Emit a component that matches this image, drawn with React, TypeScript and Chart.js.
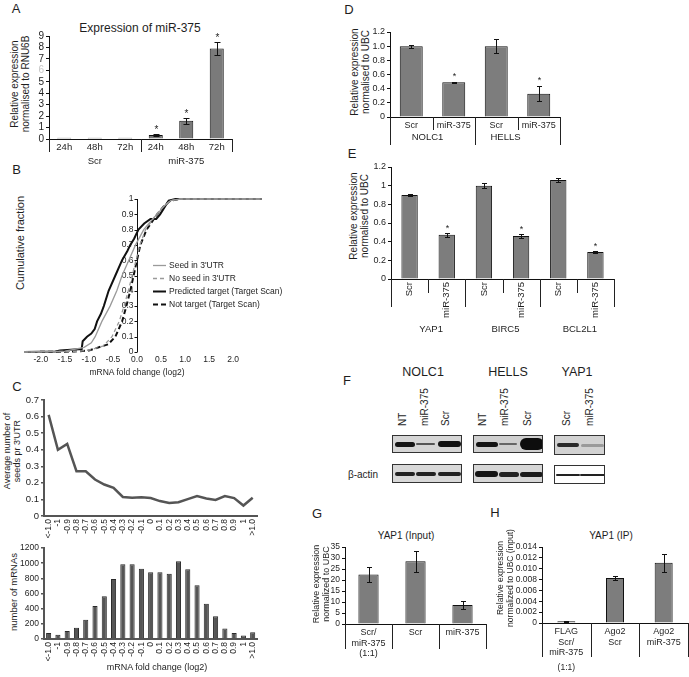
import React, { useEffect, useRef } from 'react';
import { Chart, registerables } from 'chart.js';

Chart.register(...registerables);

const FONT = '"Liberation Sans", Arial, Helvetica, sans-serif';
const INK = '#1e1e1e';
Chart.defaults.font.family = FONT;
Chart.defaults.color = INK;

// ---------------- Panel A ----------------
const aCategories = ['24h', '48h', '72h', '24h', '48h', '72h'];
const aGroupLabels = ['Scr', 'miR-375'];
const aValues = [0.12, 0.12, 0.12, 0.35, 1.6, 7.9];
const aErrors = [0, 0, 0, 0.05, 0.25, 0.6];
const aStars = [false, false, false, true, true, true];

// ---------------- Panel B ----------------
const bSeedX = [-2.35, -1.5, -1.1, -0.95, -0.87, -0.73, -0.56, -0.42, -0.31, -0.17, -0.03, 0.14, 0.3, 0.42, 0.55, 0.7, 0.9, 2.6];
const bSeedY = [0, 0.005, 0.03, 0.06, 0.1, 0.2, 0.3, 0.4, 0.5, 0.6, 0.7, 0.8, 0.86, 0.9, 0.95, 0.99, 1, 1];
const bNoSeedX = [-2.35, -1.2, -0.95, -0.7, -0.52, -0.37, -0.27, -0.18, -0.1, -0.02, 0.06, 0.18, 0.4, 0.55, 0.7, 0.9, 2.6];
const bNoSeedY = [0, 0.005, 0.015, 0.04, 0.1, 0.2, 0.3, 0.4, 0.5, 0.6, 0.7, 0.8, 0.9, 0.95, 0.99, 1, 1];
const bPredX = [-2.35, -1.7, -1.6, -1.15, -1.13, -1.04, -0.95, -0.88, -0.83, -0.75, -0.69, -0.59, -0.45, -0.31, -0.2, -0.14, -0.06, 0.03, 0.15, 0.28, 0.4, 0.48, 0.58, 0.66, 0.8, 2.6];
const bPredY = [0, 0.003, 0.01, 0.02, 0.07, 0.1, 0.12, 0.15, 0.2, 0.25, 0.3, 0.4, 0.5, 0.6, 0.66, 0.7, 0.74, 0.8, 0.84, 0.87, 0.87, 0.9, 0.95, 0.99, 1, 1];
const bNotX = [-2.35, -1.3, -1.0, -0.9, -0.6, -0.45, -0.31, -0.22, -0.14, -0.07, 0, 0.07, 0.2, 0.42, 0.55, 0.7, 0.9, 2.6];
const bNotY = [0, 0.003, 0.01, 0.02, 0.05, 0.1, 0.2, 0.3, 0.4, 0.5, 0.6, 0.7, 0.8, 0.9, 0.95, 0.99, 1, 1];
const bXTicks = [-2, -1.5, -1, -0.5, 0, 0.5, 1, 1.5, 2];
const bYTicks = [0, 0.1, 0.2, 0.3, 0.4, 0.5, 0.6, 0.7, 0.8, 0.9, 1];
const bLegend = ["Seed in 3'UTR", "No seed in 3'UTR", 'Predicted target (Target Scan)', 'Not target (Target Scan)'];

// ---------------- Panel C ----------------
const cCategories = ['<-1.0', '-1', '-0.9', '-0.8', '-0.7', '-0.6', '-0.5', '-0.4', '-0.3', '-0.2', '-0.1', '0', '0.1', '0.2', '0.3', '0.4', '0.5', '0.6', '0.7', '0.8', '0.9', '1', '>1.0'];
const cSeeds = [0.61, 0.4, 0.435, 0.27, 0.27, 0.22, 0.19, 0.17, 0.115, 0.11, 0.113, 0.108, 0.09, 0.078, 0.083, 0.102, 0.12, 0.106, 0.097, 0.12, 0.108, 0.063, 0.11];
const cCounts = [80, 55, 105, 150, 255, 435, 565, 790, 985, 985, 925, 880, 880, 860, 1025, 920, 710, 465, 300, 140, 80, 45, 90];

// ---------------- Panel D ----------------
const dCategories = ['Scr', 'miR-375', 'Scr', 'miR-375'];
const dGroupLabels = ['NOLC1', 'HELLS'];
const dValues = [1.0, 0.49, 1.0, 0.33];
const dErrors = [0.02, 0.005, 0.1, 0.105];
const dStars = [false, true, false, true];

// ---------------- Panel E ----------------
const eCategories = ['Scr', 'miR-375', 'Scr', 'miR-375', 'Scr', 'miR-375'];
const eGroupLabels = ['YAP1', 'BIRC5', 'BCL2L1'];
const eValues = [0.9, 0.475, 1.0, 0.46, 1.06, 0.29];
const eErrors = [0.008, 0.02, 0.03, 0.02, 0.02, 0.015];
const eStars = [false, true, false, true, false, true];

// ---------------- Panel F (blot lanes) ----------------
const fNolc1Lanes = ['NT', 'miR-375', 'Scr'];
const fHellsLanes = ['NT', 'miR-375', 'Scr'];
const fYap1Lanes = ['Scr', 'miR-375'];

// ---------------- Panel G ----------------
const gCategories = [['Scr/', 'miR-375', '(1:1)'], 'Scr', 'miR-375'];
const gValues = [22.5, 28.5, 8.6];
const gErrors = [3.2, 4.8, 1.7];

// ---------------- Panel H ----------------
const hCategories = [['FLAG', 'Scr/', 'miR-375'], ['Ago2', 'Scr'], ['Ago2', 'miR-375']];
const hValues = [0.0003, 0.0083, 0.0111];
const hErrors = [0.00005, 0.0003, 0.0017];

// ---------------- plugins ----------------
const decor: any = {
  id: 'decor',
  afterDatasetsDraw(chart: any, _a: any, o: any) {
    if (!o || !o.errors) return;
    const ctx = chart.ctx;
    const ys = chart.scales.y;
    const meta = chart.getDatasetMeta(0);
    const vals = chart.data.datasets[0].data;
    ctx.save();
    ctx.strokeStyle = '#111';
    ctx.lineWidth = 1;
    o.errors.forEach((e: number, i: number) => {
      const x = Math.round(meta.data[i].x) + 0.5;
      const v = vals[i];
      const top = ys.getPixelForValue(v + e);
      if (e > 0) {
        const bot = ys.getPixelForValue(v - e);
        const t = Math.round(top) + 0.5;
        const b = Math.round(bot) + 0.5;
        ctx.beginPath();
        ctx.moveTo(x, t);
        ctx.lineTo(x, b);
        ctx.moveTo(x - o.cap, t);
        ctx.lineTo(x + o.cap, t);
        ctx.moveTo(x - o.cap, b);
        ctx.lineTo(x + o.cap, b);
        ctx.stroke();
      }
      if (o.stars && o.stars[i]) {
        ctx.fillStyle = INK;
        ctx.font = `${o.starSize}px ${FONT}`;
        ctx.textAlign = 'center';
        ctx.textBaseline = 'alphabetic';
        ctx.fillText('*', x, top - o.starGap);
      }
    });
    ctx.restore();
  },
  afterDraw(chart: any, _a: any, o: any) {
    if (!o) return;
    const ctx = chart.ctx;
    const xs = chart.scales.x;
    const n = chart.data.labels.length;
    const cw = xs.width / n;
    ctx.save();
    ctx.strokeStyle = '#222';
    ctx.lineWidth = 1;
    (o.seps || []).forEach((s: number[]) => {
      const x = Math.round(xs.left + s[0] * cw) + 0.5;
      ctx.beginPath();
      ctx.moveTo(x, xs.top);
      ctx.lineTo(x, xs.top + s[1]);
      ctx.stroke();
    });
    ctx.fillStyle = INK;
    ctx.font = `${o.groupSize || 9}px ${FONT}`;
    ctx.textAlign = 'center';
    ctx.textBaseline = 'middle';
    (o.groups || []).forEach((g: any) => {
      const x = xs.left + ((g.from + g.to + 1) / 2) * cw + (g.dx || 0);
      ctx.fillText(g.label, x, xs.top + o.groupY);
    });
    ctx.restore();
  },
};

const bAxis: any = {
  id: 'bAxis',
  beforeDatasetsDraw(chart: any) {
    const ctx = chart.ctx;
    const xs = chart.scales.x;
    const ys = chart.scales.y;
    const x0 = Math.round(xs.getPixelForValue(0)) + 0.5;
    ctx.save();
    ctx.strokeStyle = '#111';
    ctx.lineWidth = 1;
    ctx.beginPath();
    ctx.moveTo(x0, ys.getPixelForValue(0));
    ctx.lineTo(x0, ys.getPixelForValue(1));
    bYTicks.forEach((v) => {
      const y = Math.round(ys.getPixelForValue(v)) + 0.5;
      ctx.moveTo(x0 - 3, y);
      ctx.lineTo(x0, y);
    });
    ctx.stroke();
    ctx.font = `8.5px ${FONT}`;
    ctx.fillStyle = INK;
    ctx.textAlign = 'right';
    ctx.textBaseline = 'middle';
    bYTicks.forEach((v) => {
      const t = v === 0 ? '0' : v === 1 ? '1' : v.toFixed(1);
      ctx.fillText(t, x0 - 4, ys.getPixelForValue(v));
    });
    ctx.restore();
  },
  afterDraw(chart: any, _a: any, o: any) {
    const ctx = chart.ctx;
    ctx.save();
    ctx.font = `8.5px ${FONT}`;
    ctx.fillStyle = INK;
    ctx.textBaseline = 'middle';
    ctx.textAlign = 'left';
    chart.data.datasets.forEach((ds: any, i: number) => {
      const y = Math.round(o.y + i * o.step) + 0.5;
      ctx.strokeStyle = ds.borderColor;
      ctx.lineWidth = ds.borderWidth;
      ctx.setLineDash(ds.borderDash || []);
      ctx.beginPath();
      ctx.moveTo(o.x, y);
      ctx.lineTo(o.x + 13, y);
      ctx.stroke();
      ctx.setLineDash([]);
      ctx.fillText(ds.label, o.x + 16, y);
    });
    ctx.restore();
  },
};

// ---------------- config helpers ----------------
function base(pad: any) {
  return {
    animation: false,
    responsive: false,
    events: [],
    layout: { padding: pad },
  };
}

function barConfig(p: any) {
  return {
    type: 'bar',
    data: {
      labels: p.labels,
      datasets: [
        {
          data: p.values,
          backgroundColor: p.color || '#7d7d7d',
          borderColor: '#111',
          borderWidth: 1,
          barPercentage: p.barFrac,
          categoryPercentage: 1,
        },
      ],
    },
    options: {
      ...base(p.pad),
      plugins: {
        legend: { display: false },
        tooltip: { enabled: false },
        decor: { ...p.decor, errors: p.errors, stars: p.stars },
      },
      scales: {
        x: {
          grid: { display: false, drawTicks: false },
          border: { display: true, color: '#111', width: 1 },
          ticks: {
            font: { size: p.xSize, lineHeight: 1.2 },
            color: INK,
            autoSkip: false,
            maxRotation: p.rot ? 90 : 0,
            minRotation: p.rot ? 90 : 0,
            padding: 3,
          },
          afterFit: (s: any) => {
            s.height = p.xh;
          },
        },
        y: {
          min: 0,
          max: p.yMax,
          ticks: {
            stepSize: p.yStep,
            autoSkip: false,
            font: { size: p.ySize },
            color: p.yColor || INK,
            padding: 2,
            callback: (v: any) => p.yFmt(Number(v)),
          },
          grid: { display: true, drawOnChartArea: false, drawTicks: true, tickLength: 3, color: '#111', lineWidth: 1 },
          border: { display: true, color: '#111', width: 1 },
          afterFit: (s: any) => {
            s.width = p.yw;
          },
        },
      },
    },
    plugins: [decor],
  };
}

const makeA = () =>
  barConfig({
    labels: aCategories,
    values: aValues,
    errors: aErrors,
    stars: aStars,
    barFrac: 0.46,
    color: '#7a7a7a',
    pad: { top: 16, right: 18, left: 0, bottom: 0 },
    yw: 49,
    xh: 31,
    yMax: 9,
    yStep: 1,
    ySize: 10,
    xSize: 9.5,
    yColor: (c: any) => (c.tick && c.tick.value === 6 ? '#c6c6c6' : INK),
    yFmt: (v: number) => String(Math.round(v)),
    decor: {
      cap: 3,
      starSize: 10,
      starGap: 1,
      seps: [[0, 13], [3, 13], [6, 13]],
      groups: [
        { from: 0, to: 2, label: aGroupLabels[0] },
        { from: 3, to: 5, label: aGroupLabels[1] },
      ],
      groupY: 22,
      groupSize: 9.5,
    },
  });

const makeD = () =>
  barConfig({
    labels: dCategories,
    values: dValues,
    errors: dErrors,
    stars: dStars,
    barFrac: 0.54,
    pad: { top: 12, right: 10, left: 0, bottom: 0 },
    yw: 50,
    xh: 33,
    yMax: 1.2,
    yStep: 0.2,
    ySize: 9,
    xSize: 9,
    yFmt: (v: number) => (v === 0 ? '0' : v.toFixed(1)),
    decor: {
      cap: 2.5,
      starSize: 9,
      starGap: 3,
      seps: [[0, 28], [1, 13], [2, 28], [3, 13], [4, 28]],
      groups: [
        { from: 0, to: 1, label: dGroupLabels[0], dx: -5 },
        { from: 2, to: 3, label: dGroupLabels[1], dx: -12 },
      ],
      groupY: 20,
      groupSize: 9.5,
    },
  });

const makeE = () =>
  barConfig({
    labels: eCategories,
    values: eValues,
    errors: eErrors,
    stars: eStars,
    barFrac: 0.44,
    pad: { top: 12, right: 10, left: 0, bottom: 0 },
    yw: 51,
    xh: 61,
    yMax: 1.2,
    yStep: 0.2,
    ySize: 9,
    xSize: 9.5,
    rot: true,
    yFmt: (v: number) => String(Number(v.toFixed(1))),
    decor: {
      cap: 2.5,
      starSize: 9,
      starGap: 2,
      seps: [[0, 28], [1, 14], [2, 28], [3, 14], [4, 28], [5, 14], [6, 28]],
      groups: [
        { from: 0, to: 1, label: eGroupLabels[0], dx: 3 },
        { from: 2, to: 3, label: eGroupLabels[1], dx: 3 },
        { from: 4, to: 5, label: eGroupLabels[2], dx: 3 },
      ],
      groupY: 50,
      groupSize: 9.5,
    },
  });

const makeG = () =>
  barConfig({
    labels: gCategories,
    values: gValues,
    errors: gErrors,
    barFrac: 0.43,
    pad: { top: 12, right: 10, left: 0, bottom: 0 },
    yw: 45,
    xh: 48,
    yMax: 35,
    yStep: 5,
    ySize: 8.5,
    xSize: 9,
    yFmt: (v: number) => String(Math.round(v)),
    decor: {
      cap: 2.5,
      seps: [[0, 25], [1, 25], [2, 25], [3, 25]],
      groups: [],
      groupY: 0,
    },
  });

const makeH = () =>
  barConfig({
    labels: hCategories,
    values: hValues,
    errors: hErrors,
    barFrac: 0.37,
    pad: { top: 12, right: 1, left: 0, bottom: 0 },
    yw: 47,
    xh: 49,
    yMax: 0.014,
    yStep: 0.002,
    ySize: 8.5,
    xSize: 9,
    yFmt: (v: number) => (Math.abs(v) < 1e-9 ? '0' : v.toFixed(3)),
    decor: {
      cap: 2.5,
      seps: [[0, 34], [1, 34], [2, 34], [3, 34]],
      groups: [{ from: 0, to: 0, label: '(1:1)' }],
      groupY: 45,
      groupSize: 8.5,
    },
  });

const makeB = () => {
  const pts = (xs: number[], ys: number[]) => xs.map((x, i) => ({ x, y: ys[i] }));
  return {
    type: 'line',
    data: {
      datasets: [
        { label: bLegend[0], data: pts(bSeedX, bSeedY), borderColor: '#9a9a9a', borderWidth: 1.3, pointRadius: 0, tension: 0, clip: 5 },
        { label: bLegend[1], data: pts(bNoSeedX, bNoSeedY), borderColor: '#9a9a9a', borderWidth: 1.3, borderDash: [4, 3], pointRadius: 0, tension: 0, clip: 5 },
        { label: bLegend[2], data: pts(bPredX, bPredY), borderColor: '#111', borderWidth: 2, pointRadius: 0, tension: 0, clip: 5 },
        { label: bLegend[3], data: pts(bNotX, bNotY), borderColor: '#111', borderWidth: 2, borderDash: [5, 3], pointRadius: 0, tension: 0, clip: 5 },
      ],
    },
    options: {
      ...base({ top: 14, right: 33, left: 24, bottom: 0 }),
      plugins: {
        legend: { display: false },
        tooltip: { enabled: false },
        bAxis: { x: 153, y: 80, step: 13 },
      },
      scales: {
        x: {
          type: 'linear',
          min: -2.35,
          max: 2.6,
          afterBuildTicks: (s: any) => {
            s.ticks = bXTicks.map((v) => ({ value: v }));
          },
          ticks: { font: { size: 8.5 }, color: INK, padding: 3, autoSkip: false, callback: (v: any) => Number(v).toFixed(1) },
          grid: { display: false, drawTicks: false },
          border: { display: false },
          afterFit: (s: any) => {
            s.height = 18;
          },
        },
        y: { type: 'linear', min: 0, max: 1, display: false },
      },
    },
    plugins: [bAxis],
  };
};

const makeCTop = () => ({
  type: 'line',
  data: {
    labels: cCategories,
    datasets: [{ data: cSeeds, borderColor: '#555', borderWidth: 2.5, pointRadius: 0, tension: 0, fill: false }],
  },
  options: {
    ...base({ top: 10, right: 5, left: 0, bottom: 0 }),
    plugins: { legend: { display: false }, tooltip: { enabled: false } },
    scales: {
      x: {
        offset: true,
        grid: { display: false, drawTicks: false },
        border: { display: true, color: '#555', width: 2 },
        ticks: { autoSkip: false, minRotation: 90, maxRotation: 90, font: { size: 8.5 }, color: INK, padding: 3 },
        afterFit: (s: any) => {
          s.height = 29;
        },
      },
      y: {
        min: 0,
        max: 0.7,
        ticks: { stepSize: 0.1, autoSkip: false, font: { size: 9.5 }, color: INK, padding: 2, callback: (v: any) => (Number(v) === 0 ? '0' : Number(v).toFixed(1)) },
        grid: { display: true, drawOnChartArea: false, drawTicks: true, tickLength: 3, color: '#555', lineWidth: 1.5 },
        border: { display: true, color: '#555', width: 2 },
        afterFit: (s: any) => {
          s.width = 44;
        },
      },
    },
  },
});

const makeCBottom = () => ({
  type: 'bar',
  data: {
    labels: cCategories,
    datasets: [{ data: cCounts, backgroundColor: '#555', borderColor: '#2a2a2a', borderWidth: 1, barPercentage: 0.55, categoryPercentage: 1 }],
  },
  options: {
    ...base({ top: 10, right: 5, left: 0, bottom: 0 }),
    plugins: { legend: { display: false }, tooltip: { enabled: false } },
    scales: {
      x: {
        grid: { display: false, drawTicks: false },
        border: { display: true, color: '#555', width: 2 },
        ticks: { autoSkip: false, minRotation: 90, maxRotation: 90, font: { size: 8.5 }, color: INK, padding: 3 },
        afterFit: (s: any) => {
          s.height = 27;
        },
      },
      y: {
        min: 0,
        max: 1200,
        ticks: { stepSize: 200, autoSkip: false, font: { size: 8.5 }, color: INK, padding: 2, callback: (v: any) => String(Math.round(Number(v))) },
        grid: { display: true, drawOnChartArea: false, drawTicks: true, tickLength: 3, color: '#555', lineWidth: 1.5 },
        border: { display: true, color: '#555', width: 2 },
        afterFit: (s: any) => {
          s.width = 44;
        },
      },
    },
  },
});

// ---------------- components ----------------
function ChartCanvas({ box, make }: { box: number[]; make: () => any }) {
  const ref = useRef<HTMLCanvasElement | null>(null);
  useEffect(() => {
    const c = new Chart(ref.current as HTMLCanvasElement, make());
    return () => c.destroy();
  }, []);
  const [left, top, width, height] = box;
  return (
    <canvas
      ref={ref}
      width={width}
      height={height}
      style={{ position: 'absolute', left, top, width, height }}
    />
  );
}

function Txt({ x, y, s, children, w }: { x: number; y: number; s: number; children: any; w?: number }) {
  return (
    <div
      style={{
        position: 'absolute',
        left: x,
        top: y,
        transform: 'translate(-50%,-50%)',
        fontSize: s,
        lineHeight: 1.1,
        whiteSpace: 'nowrap',
        fontWeight: w || 400,
      }}
    >
      {children}
    </div>
  );
}

function VTxt({ x, y, s, lh, lines }: { x: number; y: number; s: number; lh: number; lines: string[] }) {
  return (
    <div
      style={{
        position: 'absolute',
        left: x,
        top: y,
        transform: 'translate(-50%,-50%) rotate(-90deg)',
        fontSize: s,
        lineHeight: lh + 'px',
        whiteSpace: 'nowrap',
        textAlign: 'center',
      }}
    >
      {lines.map((l, i) => (
        <div key={i}>{l}</div>
      ))}
    </div>
  );
}

function LaneTxt({ x, y, s, t }: { x: number; y: number; s: number; t: string }) {
  return (
    <div
      style={{
        position: 'absolute',
        left: x,
        top: y,
        transform: 'translate(-50%,-100%) rotate(180deg)',
        writingMode: 'vertical-rl',
        fontSize: s,
        lineHeight: 1,
        whiteSpace: 'nowrap',
      }}
    >
      {t}
    </div>
  );
}

type Band = [number, number, number, number, string];
function Blot({ x, y, w, h, bg, bands }: { x: number; y: number; w: number; h: number; bg: string; bands: Band[] }) {
  return (
    <div
      style={{
        position: 'absolute',
        left: x,
        top: y,
        width: w,
        height: h,
        background: bg,
        border: '1px solid #333',
        boxSizing: 'border-box',
        overflow: 'hidden',
      }}
    >
      {bands.map((b, i) => (
        <div
          key={i}
          style={{
            position: 'absolute',
            left: b[0],
            top: b[2] - b[3] / 2,
            width: b[1],
            height: b[3],
            background: b[4],
            borderRadius: b[3] / 2,
            filter: 'blur(0.6px)',
          }}
        />
      ))}
    </div>
  );
}

const blotNolc1: Band[] = [[2, 20, 8, 5, '#151515'], [23, 19, 8, 2.5, '#555'], [45, 23, 8, 6, '#111']];
const blotNolc1Actin: Band[] = [[2, 20, 9, 4, '#222'], [23, 20, 9, 4, '#222'], [45, 23, 9, 4, '#222']];
const blotHells: Band[] = [[2, 22, 8, 5, '#151515'], [25, 18, 8, 2.5, '#666'], [46, 24, 8, 12, '#0d0d0d']];
const blotHellsActin: Band[] = [[1, 23, 9, 6, '#151515'], [25, 20, 9, 5, '#222'], [46, 23, 9, 5, '#1a1a1a']];
const blotYap1: Band[] = [[2, 22, 9, 4, '#2a2a2a'], [26, 23, 9, 3, '#9a9a9a']];
const blotYap1Actin: Band[] = [[1, 24, 9, 2.5, '#222'], [25, 25, 9, 2.5, '#222']];

export default function App() {
  return (
    <div
      style={{
        position: 'absolute',
        left: 0,
        top: 0,
        width: 689,
        height: 677,
        background: '#fff',
        overflow: 'hidden',
        fontFamily: FONT,
        color: INK,
      }}
    >
      {/* Panel letters */}
      <Txt x={16} y={9} s={13}>A</Txt>
      <Txt x={16.5} y={170} s={13}>B</Txt>
      <Txt x={17} y={387} s={13}>C</Txt>
      <Txt x={349} y={10} s={13}>D</Txt>
      <Txt x={352} y={154} s={13}>E</Txt>
      <Txt x={347} y={381} s={13}>F</Txt>
      <Txt x={317} y={514} s={13}>G</Txt>
      <Txt x={495} y={513} s={13}>H</Txt>

      {/* A */}
      <Txt x={140} y={29} s={12}>Expression of miR-375</Txt>
      <VTxt x={19.5} y={84} s={10} lh={11} lines={['Relative expression', 'normalised to RNU6B']} />
      <ChartCanvas box={[0, 20, 250, 150]} make={makeA} />

      {/* B */}
      <VTxt x={20} y={243} s={11} lh={12} lines={['Cumulative fraction']} />
      <ChartCanvas box={[0, 185, 295, 185]} make={makeB} />
      <Txt x={137} y={373} s={8.5}>mRNA fold change (log2)</Txt>

      {/* C */}
      <VTxt x={12} y={451} s={9} lh={10} lines={['Average number of', "seeds pr 3'UTR"]} />
      <ChartCanvas box={[0, 390, 266, 155]} make={makeCTop} />
      <VTxt x={13} y={592} s={9.5} lh={11} lines={['number of mRNAs']} />
      <ChartCanvas box={[0, 538, 266, 128]} make={makeCBottom} />
      <Txt x={157} y={668} s={9}>mRNA fold change (log2)</Txt>

      {/* D */}
      <VTxt x={359.5} y={72} s={10} lh={10.5} lines={['Relative expression', 'normalised to UBC']} />
      <ChartCanvas box={[340, 20, 230, 130]} make={makeD} />

      {/* E */}
      <VTxt x={359} y={216} s={10} lh={10.5} lines={['Relative expression', 'normalised to UBC']} />
      <ChartCanvas box={[340, 155, 284, 185]} make={makeE} />

      {/* F */}
      <Txt x={423} y={373} s={12.5}>NOLC1</Txt>
      <Txt x={508} y={373} s={12.5}>HELLS</Txt>
      <Txt x={577} y={373} s={12.5}>YAP1</Txt>
      <LaneTxt x={403} y={426} s={10} t={fNolc1Lanes[0]} />
      <LaneTxt x={425} y={426} s={10} t={fNolc1Lanes[1]} />
      <LaneTxt x={446} y={426} s={10} t={fNolc1Lanes[2]} />
      <LaneTxt x={483} y={426} s={10} t={fHellsLanes[0]} />
      <LaneTxt x={505} y={426} s={10} t={fHellsLanes[1]} />
      <LaneTxt x={528} y={426} s={10} t={fHellsLanes[2]} />
      <LaneTxt x={567} y={426} s={10} t={fYap1Lanes[0]} />
      <LaneTxt x={590} y={426} s={10} t={fYap1Lanes[1]} />
      <Blot x={392} y={435} w={70} h={18} bg="#d5d5d5" bands={blotNolc1} />
      <Blot x={392} y={464} w={70} h={19} bg="#d8d8d8" bands={blotNolc1Actin} />
      <Blot x={473} y={435} w={70} h={18} bg="#cfcfcf" bands={blotHells} />
      <Blot x={473} y={464} w={70} h={19} bg="#d6d6d6" bands={blotHellsActin} />
      <Blot x={554} y={435} w={51} h={20} bg="#d2d2d2" bands={blotYap1} />
      <Blot x={554} y={465} w={51} h={19} bg="#ffffff" bands={blotYap1Actin} />
      <Txt x={363} y={474} s={10}>β-actin</Txt>

      {/* G */}
      <Txt x={406} y={535} s={10}>YAP1 (Input)</Txt>
      <VTxt x={321} y={584} s={9} lh={10} lines={['Relative expression', 'normalized to UBC']} />
      <ChartCanvas box={[300, 535, 196, 137]} make={makeG} />

      {/* H */}
      <Txt x={611} y={535} s={10}>YAP1 (IP)</Txt>
      <VTxt x={505} y={578} s={8.5} lh={10} lines={['Relative expression', 'normalized to UBC (input)']} />
      <ChartCanvas box={[495, 535, 194, 137]} make={makeH} />
    </div>
  );
}
